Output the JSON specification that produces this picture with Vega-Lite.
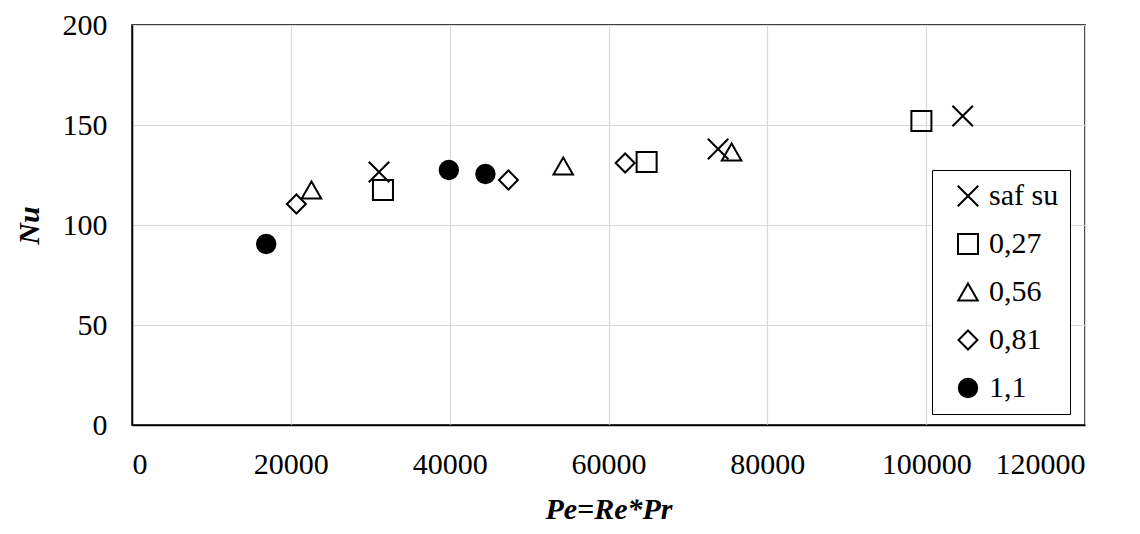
{
  "$schema": "https://vega.github.io/schema/vega-lite/v6.json",
  "width": 953,
  "height": 400,
  "autosize": {"type": "none"},
  "padding": {"left": 132, "top": 25, "right": 55, "bottom": 109},
  "background": "white",
  "config": {
    "font": "Liberation Serif",
    "view": {"stroke": "black", "strokeWidth": 1.5}
  },
  "data": {
    "values": [
      {"series": "saf su", "Pe": 31100, "Nu": 126.5},
      {"series": "saf su", "Pe": 73800, "Nu": 138},
      {"series": "saf su", "Pe": 104600, "Nu": 154.5},
      {"series": "0,27", "Pe": 31600, "Nu": 117.5},
      {"series": "0,27", "Pe": 64800, "Nu": 131.5},
      {"series": "0,27", "Pe": 99400, "Nu": 152},
      {"series": "0,56", "Pe": 22600, "Nu": 117.5},
      {"series": "0,56", "Pe": 54300, "Nu": 129.5},
      {"series": "0,56", "Pe": 75500, "Nu": 136.5},
      {"series": "0,81", "Pe": 20700, "Nu": 110.5},
      {"series": "0,81", "Pe": 47400, "Nu": 122.5},
      {"series": "0,81", "Pe": 62100, "Nu": 131},
      {"series": "1,1", "Pe": 16900, "Nu": 90.5},
      {"series": "1,1", "Pe": 39900, "Nu": 127.5},
      {"series": "1,1", "Pe": 44500, "Nu": 125.5}
    ]
  },
  "mark": {"type": "point", "filled": false, "stroke": "black", "strokeWidth": 2, "opacity": 1},
  "encoding": {
    "x": {
      "field": "Pe", "type": "quantitative", "title": "Pe=Re*Pr",
      "scale": {"domain": [0, 120000], "nice": false},
      "axis": {
        "values": [0, 20000, 40000, 60000, 80000, 100000, 120000],
        "format": "d", "ticks": false, "labelPadding": 24,
        "labelFontSize": 30, "labelColor": "black",
        "domainColor": "black", "domainWidth": 1.5,
        "gridColor": "#d9d9d9", "gridWidth": 1.2,
        "titleFontSize": 30, "titleFontWeight": "bold", "titleFontStyle": "italic",
        "titleColor": "black", "titlePadding": 15
      }
    },
    "y": {
      "field": "Nu", "type": "quantitative", "title": "Nu",
      "scale": {"domain": [0, 200], "nice": false},
      "axis": {
        "values": [0, 50, 100, 150, 200],
        "ticks": false, "labelPadding": 25,
        "labelFontSize": 30, "labelColor": "black",
        "domainColor": "black", "domainWidth": 1.5,
        "gridColor": "#d9d9d9", "gridWidth": 1.2,
        "titleFontSize": 30, "titleFontWeight": "bold", "titleFontStyle": "italic",
        "titleColor": "black", "titlePadding": 18
      }
    },
    "shape": {
      "field": "series", "type": "nominal",
      "scale": {
        "domain": ["saf su", "0,27", "0,56", "0,81", "1,1"],
        "range": ["M-1,-1L1,1M-1,1L1,-1", "square", "triangle-up", "diamond", "circle"]
      },
      "legend": {
        "title": null, "orient": "none", "legendX": 800, "legendY": 145,
        "strokeColor": "black", "fillColor": "white", "padding": 11,
        "labelFontSize": 30, "labelColor": "black",
        "rowPadding": 18, "symbolStrokeWidth": 2, "symbolStrokeColor": "black",
        "labelOffset": 6, "symbolOffset": 10, "offset": 0
      }
    },
    "fill": {
      "field": "series", "type": "nominal",
      "scale": {
        "domain": ["saf su", "0,27", "0,56", "0,81", "1,1"],
        "range": ["transparent", "transparent", "transparent", "transparent", "black"]
      }
    },
    "size": {
      "field": "series", "type": "nominal",
      "scale": {
        "domain": ["saf su", "0,27", "0,56", "0,81", "1,1"],
        "range": [420, 340, 330, 260, 360]
      }
    }
  }
}
